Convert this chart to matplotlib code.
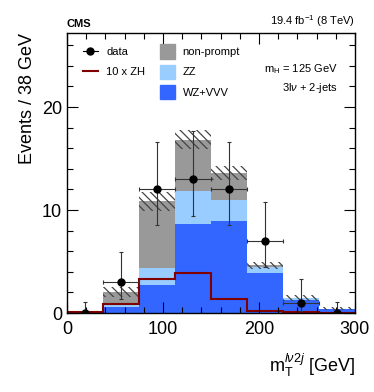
import numpy as np
import matplotlib
matplotlib.use("Agg")
import matplotlib.pyplot as plt
from matplotlib.patches import Patch
from matplotlib.lines import Line2D
from matplotlib.ticker import MultipleLocator

plt.rcParams['font.family'] = ['Liberation Sans', 'DejaVu Sans']
plt.rcParams['hatch.linewidth'] = 0.9
plt.rcParams['mathtext.fontset'] = 'custom'
plt.rcParams['mathtext.rm'] = 'Liberation Sans'
plt.rcParams['mathtext.it'] = 'Liberation Sans:italic'

# Bins (mT in GeV)
edges = [0, 37.5, 75, 112.5, 150, 187.5, 225, 262.5, 300]

# Backgrounds (stacked, bottom to top)
wz_vvv = [0.05, 0.6, 2.7, 8.6, 8.9, 3.9, 1.3, 0.4]
zz = [0.0, 0.15, 1.7, 3.25, 2.1, 0.6, 0.15, 0.0]
non_prompt = [0.0, 1.3, 6.45, 5.0, 2.6, 0.15, 0.0, 0.0]
bkg_unc = [0.0, 0.5, 0.9, 0.95, 0.7, 0.35, 0.3, 0.15]

# Signal x10
zh_x10 = [0.12, 0.9, 3.3, 3.85, 1.4, 0.2, 0.05, 0.02]

# Data
data = [0, 3, 12, 13, 12, 7, 1, 0]
data_err_lo = [0, 1.63, 3.46, 3.6, 3.46, 2.58, 0.83, 0]
data_err_hi = [1.1, 2.92, 4.58, 4.7, 4.58, 3.77, 2.3, 1.1]

edges = np.array(edges)
centers = 0.5 * (edges[:-1] + edges[1:])
widths = np.diff(edges)
wz = np.array(wz_vvv)
zzv = np.array(zz)
npv = np.array(non_prompt)
total = wz + zzv + npv
unc = np.array(bkg_unc)

fig = plt.figure(figsize=(3.74, 3.92), dpi=100)
ax = fig.add_axes([0.179, 0.2015, 0.77, 0.7145])

c_wz = '#3366ff'
c_zz = '#99ccff'
c_np = '#999999'

ax.bar(edges[:-1], wz, width=widths, align='edge', color=c_wz, lw=0)
ax.bar(edges[:-1], zzv, width=widths, bottom=wz, align='edge', color=c_zz, lw=0)
ax.bar(edges[:-1], npv, width=widths, bottom=wz + zzv, align='edge', color=c_np, lw=0)
ax.bar(edges[:-1], 2 * unc, width=widths, bottom=total - unc, align='edge',
       color='none', edgecolor='#444444', hatch='\\\\\\\\', lw=0)

ax.stairs(zh_x10, edges, color='#800000', lw=1.5, baseline=None)

data = np.array(data)
xerr = np.where(data > 0, widths / 2, 0)
ax.errorbar(centers, data, yerr=[data_err_lo, data_err_hi], xerr=xerr,
            fmt='o', color='black', ms=5, elinewidth=0.8, capsize=1.5,
            capthick=0.8, ecolor='#333333')

ax.set_xlim(0, 300)
ax.set_ylim(0, 27.2)
ax.xaxis.set_major_locator(MultipleLocator(100))
ax.xaxis.set_minor_locator(MultipleLocator(20))
ax.yaxis.set_major_locator(MultipleLocator(10))
ax.yaxis.set_minor_locator(MultipleLocator(2))
ax.tick_params(which='both', direction='in', top=True, right=True, labelsize=13)
ax.tick_params(which='major', length=8, width=0.8)
ax.tick_params(which='minor', length=4, width=0.8)
ax.tick_params(axis='x', pad=6)
for s in ax.spines.values():
    s.set_linewidth(1.0)

ax.set_ylabel('Events / 38 GeV', fontsize=13, loc='top')
ax.set_xlabel(r'm$_{\mathrm{T}}^{l\nu 2j}$ [GeV]', fontsize=13, loc='right', labelpad=10)

fig.text(0.179, 0.925, 'CMS', fontsize=8, fontweight='bold', ha='left', va='bottom')
fig.text(0.949, 0.925, r'19.4 fb$^{-1}$ (8 TeV)', fontsize=8, ha='right', va='bottom')

leg1 = ax.legend(handles=[Line2D([], [], color='black', marker='o', ms=5, lw=0.8),
                          Line2D([], [], color='#800000', lw=1.5)],
                 labels=['data', '10 x ZH'], loc='upper left',
                 bbox_to_anchor=(0.02, 0.985), frameon=False, fontsize=8,
                 handlelength=1.4, labelspacing=0.9, handletextpad=0.7)
ax.add_artist(leg1)
ax.legend(handles=[Patch(color=c_np), Patch(color=c_zz), Patch(color=c_wz)],
          labels=['non-prompt', 'ZZ', 'WZ+VVV'], loc='upper left',
          bbox_to_anchor=(0.29, 0.995), frameon=False, fontsize=8,
          handlelength=1.3, handleheight=1.6, labelspacing=0.55, handletextpad=0.7)

ax.text(0.94, 0.87, r'm$_{\mathrm{H}}$ = 125 GeV', transform=ax.transAxes,
        fontsize=8, ha='right', va='center')
ax.text(0.94, 0.805, r'3l$\nu$ + 2-jets', transform=ax.transAxes,
        fontsize=8, ha='right', va='center')

fig.savefig('out.png', dpi=100)
